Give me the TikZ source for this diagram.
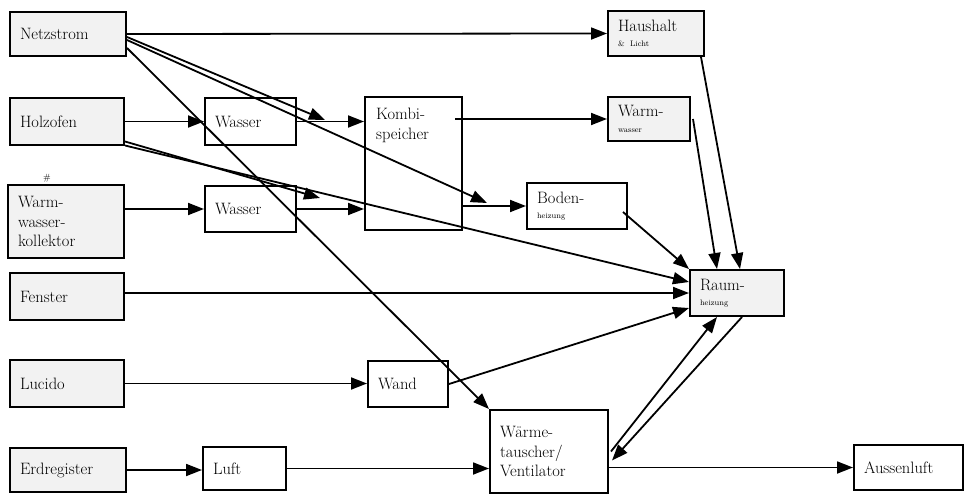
\documentclass[tikz,border=0pt]{standalone}
\usetikzlibrary{arrows.meta,calc}

\tikzset{
  box/.style={draw,line width=2pt,inner xsep=10pt,inner ysep=2pt,align=left,
    font=\fontsize{16.5}{19.5}\selectfont},
  src/.style={box,fill=gray!10},
  flow/.style={line width=1.8pt,-{Triangle[length=16pt,width=12pt]}},
  sub/.style={font=\fontsize{8}{9}\selectfont}
}

\begin{document}
\begin{tikzpicture}[x=1pt,y=-1pt]
  \useasboundingbox (0,0) rectangle (964,495);

  % Quellen links
  \node[src,minimum height=44pt,text width=96pt] (netz) at (68,34) {Netzstrom};
  \node[src,minimum height=47pt,text width=94pt] (holz) at (67,121.5) {Holzofen};
  \node[src,minimum height=73pt,text width=96pt] (koll) at (66,221.5) {Warm-\\wasser-\\kollektor};
  \node[src,minimum height=47pt,text width=94pt] (fens) at (67,296.5) {Fenster};
  \node[src,minimum height=47pt,text width=94pt] (luci) at (67,383.5) {Lucido};
  \node[src,minimum height=44pt,text width=96pt] (erdr) at (68,470) {Erdregister};
  \node[font=\fontsize{9}{9}\selectfont] (hash) at (47,178) {\#};

  % Zwischenstufen
  \node[box,minimum height=47pt,text width=71pt] (wasA) at (250.5,121.5) {Wasser};
  \node[box,minimum height=46pt,text width=71pt] (wasB) at (250.5,209) {Wasser};
  \node[box,minimum height=133pt,text width=77pt] (kombi) at (413.5,163.5) {};
  \node[font=\fontsize{16.5}{19.5}\selectfont,align=left,anchor=north west,inner sep=0pt]
    (kombiT) at ($(kombi.north west)+(12,12)$) {Kombi-\\speicher};
  \node[box,minimum height=43pt,text width=63pt] (luft) at (244.5,468.5) {Luft};
  \node[box,minimum height=46pt,text width=60pt] (wand) at (408,384) {Wand};
  \node[box,minimum height=83pt,text width=98pt] (wtv) at (549,451.5) {W\"arme-\\tauscher/\\Ventilator};

  % Verbraucher rechts
  \node[src,minimum height=45pt,text width=76pt] (haus) at (656,33.5)
    {Haushalt\\[-4pt]{\fontsize{8}{9}\selectfont\& Licht}};
  \node[src,minimum height=44pt,text width=62pt] (wwr) at (649,119)
    {Warm-\\[-4pt]{\fontsize{8}{9}\selectfont wasser}};
  \node[box,minimum height=46pt,text width=80pt] (boden) at (577,206)
    {Boden-\\[-4pt]{\fontsize{8}{9}\selectfont heizung}};
  \node[src,minimum height=46pt,text width=74pt] (raum) at (737,293)
    {Raum-\\[-4pt]{\fontsize{8}{9}\selectfont heizung}};
  \node[box,minimum height=45pt,text width=89pt] (aussen) at (908.5,467.5) {Aussenluft};

  \coordinate (kombiA) at (325,120);
  \coordinate (bodenA) at (487,203);
  \coordinate (kombiB) at (320,198);

  % Netzstrom
  \draw[flow] (netz.east) -- (haus.west);
  \draw[flow] ($(netz.east)+(0,3)$) -- (kombiA);
  \draw[flow] ($(netz.east)+(0,6)$) -- (bodenA);
  \draw[flow] ($(netz.east)+(0,14)$) -- (wtv.north west);

  % Holzofen und Kollektor
  \draw[flow] (holz.east) -- (wasA.west);
  \draw[flow] ($(holz.east)+(0,20)$) -- (kombiB);
  \draw[flow] ($(holz.east)+(0,24)$) -- ($(raum.west)+(0,-11)$);
  \draw[flow] (koll.east |- wasB.west) -- (wasB.west);
  \draw[flow] (wasA.east) -- (wasA.east -| kombi.west);
  \draw[flow] (wasB.east) -- (wasB.east -| kombi.west);

  % Kombispeicher
  \draw[flow] ($(wwr.west -| kombi.east)+(-8,0)$) -- (wwr.west);
  \draw[flow] (boden.west -| kombi.east) -- (boden.west);

  % Raum
  \draw[flow] ($(boden.east)+(-5,6)$) -- (raum.north west);
  \draw[flow] (raum.west -| fens.east) -- (raum.west);
  \draw[flow] (wand.east) -- ($(raum.west)+(0,15)$);
  \draw[flow] ($(haus.south east)+(-4,0)$) -- ($(raum.north)+(3,0)$);
  \draw[flow] ($(wwr.east)+(2,0)$) -- ($(raum.north)+(-20,0)$);

  % Lueftung
  \draw[flow] (luci.east) -- (luci.east -| wand.west);
  \draw[flow] (erdr.east) -- (erdr.east -| luft.west);
  \draw[flow] (luft.east) -- (luft.east -| wtv.west);
  \draw[flow] (aussen.west -| wtv.east) -- (aussen.west);
  \draw[flow] ($(wtv.east)+(2,0)$) -- ($(raum.south)+(-20,0)$);
  \draw[flow] ($(raum.south)+(5,0)$) -- ($(wtv.east)+(3,9)$);
\end{tikzpicture}
\end{document}
